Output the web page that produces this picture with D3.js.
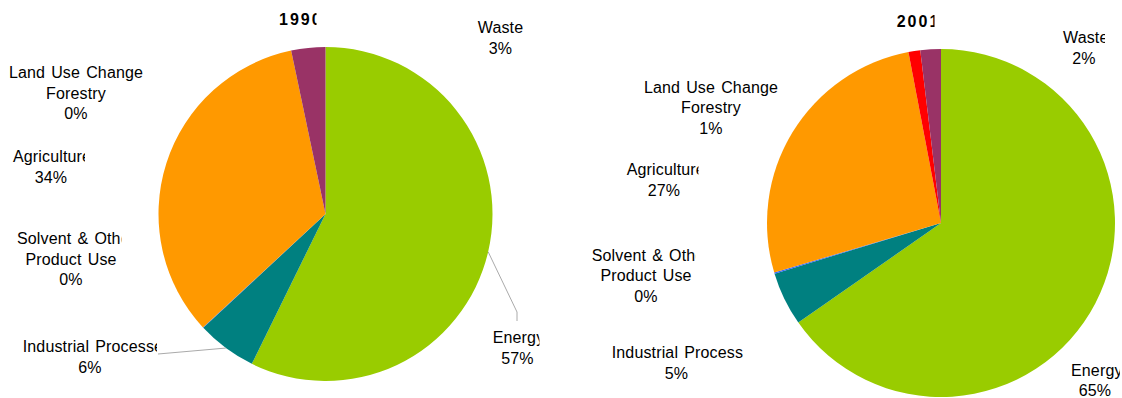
<!DOCTYPE html>
<html><head><meta charset="utf-8">
<script src="https://cdn.jsdelivr.net/npm/d3@7"></script>
<style>
html,body{margin:0;padding:0;background:#fff;}
svg{display:block;}
text{font-family:"Liberation Sans",Arial,sans-serif;fill:#000;}
</style></head>
<body>
<svg id="chart" width="1122" height="398"></svg>
<script>
// ---- data ----
const categories = ["Energy", "Industrial Processes", "Solvent & Other Product Use", "Agriculture", "Land Use Change Forestry", "Waste"];
const labelLines = [["Energy"], ["Industrial Processes"], ["Solvent & Other", "Product Use"], ["Agriculture"], ["Land Use Change", "Forestry"], ["Waste"]];
const years = ["1990", "2001"];
const values1990 = [57.3, 5.8, 0.05, 33.6, 0.0, 3.3];
const values2001 = [65.3, 5.0, 0.1, 26.6, 1.1, 1.9];
const colors = ["#99CC00", "#008080", "#3366FF", "#FF9900", "#FF0000", "#993366"];

// ---- layout ----
const pies = [
  {year: years[0], values: values1990, cx: 325.5, cy: 214, r: 167,
   title: {x: 279, y: 25, clip: 316.5},
   labels: [
     {cx: 517.5, y: 343, start: 492.7, clip: 539.5, leader: [[517, 312], [517, 321]]},
     {cx: 90, y: 352, start: 22.7, clip: 157, leader: [[158, 354]]},
     {cx: 71, y: 244, start: 17, clip: 121.5},
     {cx: 51, y: 162, start: 13, clip: 85},
     {cx: 76, y: 78},
     {cx: 500.5, y: 33}
   ]},
  {year: years[1], values: values2001, cx: 941, cy: 223, r: 174,
   title: {x: 896.7, y: 27, clip: 934.5},
   labels: [
     {cx: 1095, y: 375.7, start: 1071, clip: 1120},
     {cx: 676.5, y: 358.3, start: 611.7, clip: 743},
     {cx: 646, y: 260.7, start: 591.7, clip: 695.5},
     {cx: 664, y: 175, start: 626.7, clip: 698.5},
     {cx: 711, y: 92.7},
     {cx: 1084, y: 43.3, start: 1063, clip: 1105}
   ]}
];
const lineH = 20.5;

const svg = d3.select("#chart");
const defs = svg.append("defs");
const color = d3.scaleOrdinal().domain(categories).range(colors);
const pieGen = d3.pie().sort(null).value(d => d.value);
let clipId = 0;
function clipRect(xmax) {
  const id = "c" + (clipId++);
  defs.append("clipPath").attr("id", id).append("rect")
    .attr("x", -100).attr("y", 0).attr("width", xmax + 100).attr("height", 398);
  return "url(#" + id + ")";
}

pies.forEach(p => {
  const data = categories.map((c, i) => ({cat: c, value: p.values[i], idx: i}));
  const total = d3.sum(p.values);
  const arcs = pieGen(data);
  const arc = d3.arc().innerRadius(0).outerRadius(p.r);
  const edge = d3.arc().innerRadius(p.r).outerRadius(p.r);
  const g = svg.append("g").attr("transform", `translate(${p.cx},${p.cy})`);
  g.selectAll("path").data(arcs).join("path")
    .attr("d", arc).attr("fill", d => color(d.data.cat));

  // title
  svg.append("text").attr("x", p.title.x).attr("y", p.title.y)
    .attr("clip-path", clipRect(p.title.clip))
    .style("font-size", "16px").style("font-weight", "bold").style("letter-spacing", "2px")
    .text(p.year);

  // labels
  arcs.forEach((a, i) => {
    const L = p.labels[i];
    const pct = Math.round(a.data.value / total * 100) + "%";
    const lines = labelLines[i].concat([pct]);
    const lg = svg.append("g").style("font-size", "16px")
      .style("letter-spacing", "0.15px").style("word-spacing", "1.5px");
    lines.forEach((t, k) => {
      const txt = lg.append("text").attr("y", L.y + k * lineH).text(t);
      if (k === 0 && L.clip !== undefined) {
        txt.attr("x", L.start).attr("text-anchor", "start").attr("clip-path", clipRect(L.clip));
      } else {
        txt.attr("x", L.cx).attr("text-anchor", "middle");
      }
    });
    if (L.leader) {
      const c = edge.centroid(a);
      const pts = [[p.cx + c[0], p.cy + c[1]]].concat(L.leader);
      svg.append("path").attr("d", d3.line()(pts))
        .attr("fill", "none").attr("stroke", "#aaaaaa").attr("stroke-width", 1);
    }
  });
});
</script>
</body></html>
